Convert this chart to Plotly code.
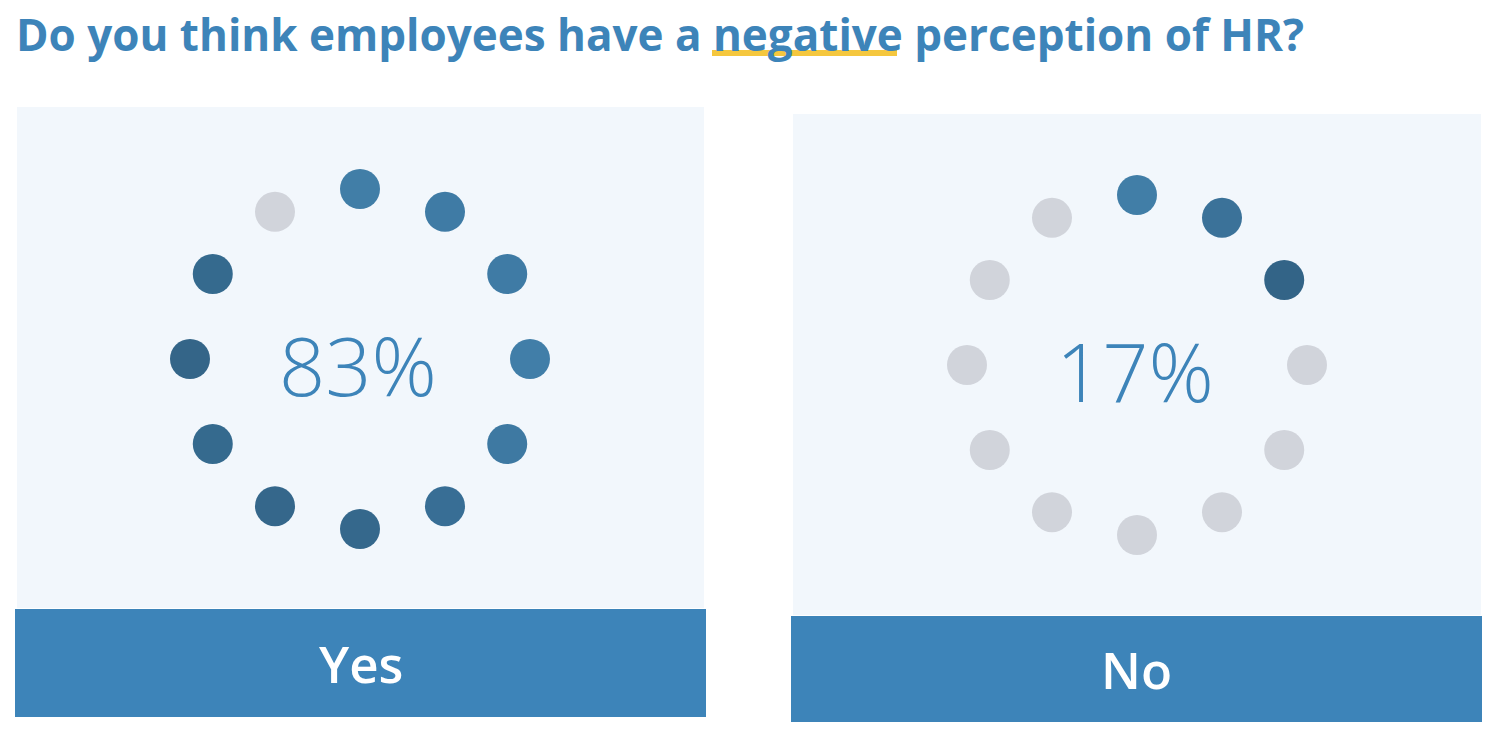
import math
import plotly.graph_objects as go

# ---- data ----
title_text = "Do you think employees have a negative perception of HR?"
answers = ["Yes", "No"]
percents = [83, 17]
filled_dots = [11, 3]          # dots coloured out of 12
n_dots = 12

# ---- styles ----
blue = "#3d84b9"
panel_bg = "#f2f7fc"
grey = "#d1d4db"
yellow = "#f5c73e"
# colour of each dot going clockwise from 12 o'clock
dot_shades = [
    ["#417ea7", "#3f7ba5", "#3f7ba5", "#417ea8", "#3e79a2", "#386e95",
     "#35688c", "#35678b", "#356a8e", "#346588", "#356a8e", "#d2d5dc"],
    ["#417ea7", "#3b7299", "#336487"] + [grey] * 9,
]

W, H = 1492, 732
panels = [
    dict(bg=(17, 107, 704, 608), bar=(15, 609, 706, 717), cx=360, cy=359),
    dict(bg=(793, 114, 1481, 615), bar=(791, 616, 1482, 722), cx=1137, cy=365),
]
ring_r = 170

fig = go.Figure()
shapes = []
annotations = []

for i, p in enumerate(panels):
    x0, y0, x1, y1 = p["bg"]
    shapes.append(dict(type="rect", x0=x0, y0=y0, x1=x1, y1=y1, xref="x", yref="y",
                       fillcolor=panel_bg, line=dict(width=0), layer="below"))
    bx0, by0, bx1, by1 = p["bar"]
    shapes.append(dict(type="rect", x0=bx0, y0=by0, x1=bx1, y1=by1, xref="x", yref="y",
                       fillcolor=blue, line=dict(width=0), layer="below"))
    xs, ys, cols = [], [], []
    for k in range(n_dots):
        a = math.radians(90 - k * 360 / n_dots)
        xs.append(p["cx"] + ring_r * math.cos(a))
        ys.append(p["cy"] - ring_r * math.sin(a))
        cols.append(dot_shades[i][k] if k < filled_dots[i] else grey)
    fig.add_trace(go.Scatter(x=xs, y=ys, mode="markers", hoverinfo="skip",
                             marker=dict(size=40, color=cols, line=dict(width=0)),
                             showlegend=False))
    annotations.append(dict(x=p["cx"] - 2, y=p["cy"] + 5, xref="x", yref="y",
                            text=f"{percents[i]}%", showarrow=False,
                            font=dict(family="Open Sans", size=81, color=blue, weight=300),
                            xanchor="center", yanchor="middle"))
    annotations.append(dict(x=(bx0 + bx1) / 2, y=(by0 + by1) / 2, xref="x", yref="y",
                            text=answers[i], showarrow=False,
                            font=dict(family="Open Sans", size=51, color="white", weight=600),
                            xanchor="center", yanchor="middle"))

# title underline under "negative"
shapes.append(dict(type="rect", x0=712, y0=50, x1=897, y1=56, xref="x", yref="y",
                   fillcolor=yellow, line=dict(width=0), layer="below"))

annotations.append(dict(x=14, y=34, xref="x", yref="y", text=f"<b>{title_text}</b>",
                        showarrow=False, xanchor="left", yanchor="middle",
                        font=dict(family="Open Sans", size=44, color=blue)))

fig.update_layout(
    width=W, height=H, margin=dict(l=0, r=0, t=0, b=0),
    paper_bgcolor="white", plot_bgcolor="white",
    xaxis=dict(range=[0, W], visible=False, fixedrange=True),
    yaxis=dict(range=[H, 0], visible=False, fixedrange=True),
    shapes=shapes, annotations=annotations,
)

fig.write_html("out.html", config={"displayModeBar": False, "staticPlot": True},
               post_script="document.body.style.margin='0';document.body.style.overflow='hidden';")
